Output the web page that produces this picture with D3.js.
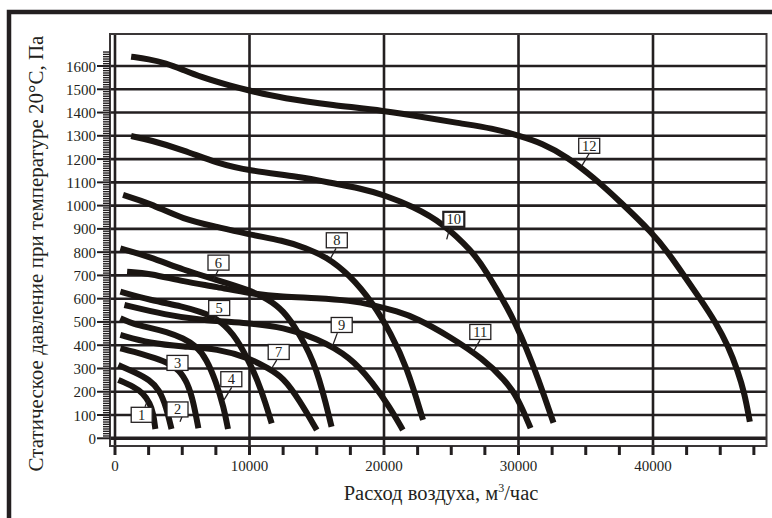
<!DOCTYPE html>
<html>
<head>
<meta charset="utf-8">
<script src="https://cdn.jsdelivr.net/npm/d3@7/dist/d3.min.js"></script>
<style>
  html, body { margin: 0; padding: 0; background: #fff; }
  svg text { font-family: "Liberation Serif", "Times New Roman", serif; fill: #231f20; }
</style>
</head>
<body>
<svg id="chart" width="772" height="518"></svg>
<script>
// Fan performance curves: air flow (m3/h) vs static pressure at 20°C (Pa)
const flowTicks = [0, 10000, 20000, 30000, 40000];
const pressureTicks = d3.range(0, 1700, 100);

const fan1  = [[250,251],[1400,222],[2100,193],[2600,150],[2850,107],[3000,40]];
const fan2  = [[250,315],[1400,286],[2600,251],[3300,208],[3800,136],[4200,40]];
const fan3  = [[400,387],[1400,372],[2600,351],[3800,329],[4800,294],[5400,236],[5800,165],[6200,43]];
const fan4  = [[400,516],[1400,490],[2600,475],[3800,458],[5100,430],[6100,394],[6800,340],[7500,245],[8100,130],[8400,40]];
const fan5  = [[400,630],[2600,594],[5100,566],[6300,544],[7600,516],[8800,451],[9800,350],[10600,250],[11200,150],[11650,64]];
const fan6  = [[400,816],[2600,780],[5100,723],[7600,680],[10000,637],[11300,600],[12500,552],[13700,451],[15000,308],[16100,50]];
const fan7  = [[400,444],[2600,408],[5100,394],[7600,385],[10000,345],[11400,300],[12500,262],[13700,165],[15000,36]];
const fan8  = [[600,1046],[2600,1010],[5100,940],[7600,909],[10000,875],[12500,850],[14200,818],[15700,780],[17400,705],[19200,580],[20500,451],[21700,308],[22900,79]];
const fan9  = [[700,573],[3800,530],[6300,508],[10000,495],[12500,477],[15000,430],[17500,350],[19200,236],[20400,136],[21400,36]];
const fan10 = [[1200,1299],[2600,1282],[5100,1239],[7600,1182],[10000,1150],[13700,1124],[16200,1096],[18200,1075],[20000,1046],[22200,995],[24400,924],[26600,800],[27400,737],[29900,494],[31600,236],[32600,67]];
const fan11 = [[900,716],[2600,709],[5100,673],[7600,651],[10000,622],[12500,608],[15000,603],[17500,592],[19200,573],[21000,545],[22400,517],[24900,437],[27400,340],[29000,250],[29900,179],[30900,44]];
const fan12 = [[1200,1640],[2500,1630],[3800,1612],[5000,1585],[6300,1554],[8800,1511],[10000,1494],[12500,1461],[16200,1432],[20000,1408],[23200,1378],[25600,1354],[28100,1332],[29900,1303],[31800,1268],[33600,1210],[35600,1120],[37500,1020],[40000,880],[41100,800],[42300,700],[43500,600],[44700,495],[45600,395],[46300,290],[46800,195],[47200,71]];

const fanCurves = [fan1, fan2, fan3, fan4, fan5, fan6, fan7, fan8, fan9, fan10, fan11, fan12];

// curve number tags: box centre and leader line, all in data units
const tagIds     = ["1","2","3","4","5","6","7","8","9","10","11","12"];
const tagCenters = [[1985,101],[4647,124],[4647,324],[8647,254],[7747,560],[7695,755],[12171,371],[16491,851],[16855,487],[25190,941],[27160,457],[35257,1257]];
const tagLeaders = [
  [[2230,136],[2476,169]],
  [[5078,107],[4833,71]],
  null,
  [[8677,219],[8104,165]],
  [[7658,538],[7361,509]],
  [[7680,723],[7309,680]],
  [[12022,336],[11651,301]],
  [[16431,816],[15985,769]],
  [[16528,452],[16112,387]],
  [[24907,908],[24662,855]],
  [[27138,422],[26640,372]],
  [[35264,1225],[34699,1170]]
];

const ink = "#231f20";
const svg = d3.select("#chart");

const frame = { left: 110, top: 34, right: 766.5, bottom: 446 };
const x = d3.scaleLinear().domain([0, 40000]).range([115, 653]);
const y = d3.scaleLinear().domain([0, 1600]).range([438.3, 66]);

svg.append("rect").attr("width", 772).attr("height", 518).attr("fill", "#fff");

// outer border (top and left edges)
svg.append("path")
  .attr("d", "M9,518 V12 H772")
  .attr("fill", "none").attr("stroke", ink).attr("stroke-width", 4.5);

// horizontal grid
svg.append("g").selectAll("line").data(pressureTicks).join("line")
  .attr("x1", frame.left).attr("x2", frame.right)
  .attr("y1", d => y(d)).attr("y2", d => y(d))
  .attr("stroke", ink).attr("stroke-width", d => d === 0 ? 3.5 : 2.6);

// vertical grid
svg.append("g").selectAll("line").data(flowTicks).join("line")
  .attr("x1", d => x(d)).attr("x2", d => x(d))
  .attr("y1", frame.top).attr("y2", frame.bottom)
  .attr("stroke", ink).attr("stroke-width", 2.6);

// plot frame
svg.append("rect")
  .attr("x", frame.left).attr("y", frame.top)
  .attr("width", frame.right - frame.left).attr("height", frame.bottom - frame.top)
  .attr("fill", "none").attr("stroke", "#3a3637").attr("stroke-width", 2);

// y axis: minor ticks every 10 Pa, major every 100 Pa
const minorY = d3.range(0, 1670, 10);
svg.append("g").selectAll("line").data(minorY).join("line")
  .attr("x1", d => d % 100 === 0 ? 97 : 103).attr("x2", frame.left)
  .attr("y1", d => y(d)).attr("y2", d => y(d))
  .attr("stroke", ink).attr("stroke-width", d => d % 100 === 0 ? 2 : 1.4);

svg.append("g").selectAll("text").data(pressureTicks).join("text")
  .attr("x", 96).attr("y", d => y(d) + 5.5)
  .attr("text-anchor", "end").attr("font-size", 15)
  .text(d => d);

// x axis: ticks every 2500
const minorX = d3.range(0, 48000, 2500);
svg.append("g").selectAll("line").data(minorX).join("line")
  .attr("x1", d => x(d)).attr("x2", d => x(d))
  .attr("y1", frame.bottom).attr("y2", frame.bottom + 9)
  .attr("stroke", ink).attr("stroke-width", 3);

svg.append("g").selectAll("text").data(flowTicks).join("text")
  .attr("x", d => x(d)).attr("y", 471)
  .attr("text-anchor", "middle").attr("font-size", 15)
  .text(d => d);

// axis titles
const xt = svg.append("text")
  .attr("x", 441).attr("y", 500)
  .attr("text-anchor", "middle").attr("font-size", 20.5);
xt.append("tspan").text("Расход воздуха, м");
xt.append("tspan").attr("font-size", 12).attr("dy", -8).text("3");
xt.append("tspan").attr("dy", 8).text("/час");

svg.append("text")
  .attr("transform", "translate(43,253.5) rotate(-90)")
  .attr("text-anchor", "middle").attr("font-size", 21)
  .text("Статическое давление при температуре 20°С, Па");

// fan curves
const line = d3.line()
  .x(d => x(d[0])).y(d => y(d[1]))
  .curve(d3.curveBasis);

svg.append("g").selectAll("path").data(fanCurves).join("path")
  .attr("d", line)
  .attr("fill", "none").attr("stroke", "#1a1512")
  .attr("stroke-width", 6).attr("stroke-linecap", "butt");

// curve number tags
const tags = svg.append("g");
tagIds.forEach((id, i) => {
  const lead = tagLeaders[i];
  if (lead) {
    tags.append("line")
      .attr("x1", x(lead[0][0])).attr("y1", y(lead[0][1]))
      .attr("x2", x(lead[1][0])).attr("y2", y(lead[1][1]))
      .attr("stroke", ink).attr("stroke-width", 1.3);
  }
  const cx = x(tagCenters[i][0]), cy = y(tagCenters[i][1]);
  tags.append("rect")
    .attr("x", cx - 10.5).attr("y", cy - 7.5)
    .attr("width", 21).attr("height", 15)
    .attr("fill", "#fff").attr("stroke", ink)
    .attr("stroke-width", id === "10" ? 2.2 : 1.3);
  tags.append("text")
    .attr("x", cx).attr("y", cy + 5)
    .attr("text-anchor", "middle").attr("font-size", 14.5)
    .text(id);
});
</script>
</body>
</html>
